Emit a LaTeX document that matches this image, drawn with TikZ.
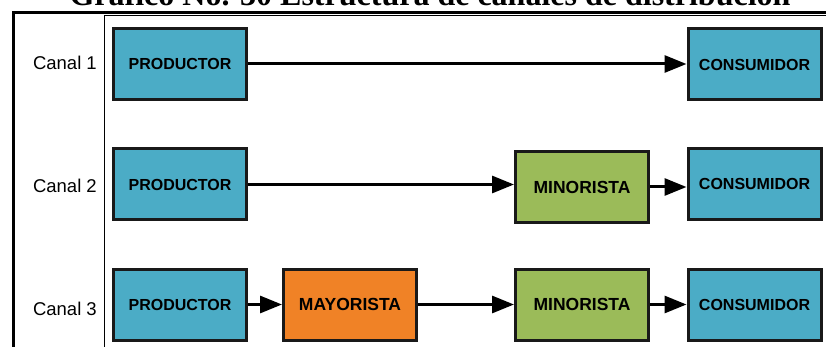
\documentclass[tikz,border=0pt]{standalone}
\usepackage{fontspec}
\setmainfont{Liberation Sans}
\newfontfamily\titlefont{Liberation Serif}
\usetikzlibrary{arrows.meta,positioning}
\definecolor{azul}{RGB}{75,172,198}
\definecolor{verde}{RGB}{155,187,89}
\definecolor{naranja}{RGB}{240,130,38}

\begin{document}
\begin{tikzpicture}[x=1pt,y=-1pt,
    caja/.style={draw=black!90, line width=3pt, minimum width=133pt, minimum height=71pt,
      inner sep=0pt, font=\bfseries\fontsize{16}{18}\selectfont},
    cajag/.style={caja, font=\bfseries\fontsize{17.5}{20}\selectfont},
    flecha/.style={line width=3pt, -{Triangle[length=22pt,width=17pt]}}]
    \useasboundingbox (0,0) rectangle (826,347);

    % Title, cut off at the top
    \node[anchor=base, inner sep=0pt, font=\titlefont\bfseries\fontsize{32}{36}\selectfont]
      (titulo) at (430,6) {Gráfico No. 30 Estructura de canales de distribución};

    % Frame
    \draw[line width=3pt] (13.5,360) -- (13.5,12.5) -- (840,12.5);
    \draw[line width=1pt] (104,360) -- (104,16) -- (840,16);

    % Channel labels
    \foreach \yy/\n in {70/1,193/2,315/3} {
      \node[anchor=base east, inner sep=0pt, font=\fontsize{18.5}{22}\selectfont]
        (canal\n) at (97,\yy) {Canal \n};
    }

    % Canal 1
    \node[caja, fill=azul] (prod1) at (180,64) {PRODUCTOR};
    \node[caja, fill=azul] (cons1) at (754.5,64.5) {CONSUMIDOR};
    \draw[flecha] (prod1.east) -- (prod1.east -| cons1.west);

    % Canal 2
    \node[caja, fill=azul] (prod2) at (180,184.5) {PRODUCTOR};
    \node[cajag, fill=verde] (mino2) at (582,187) {MINORISTA};
    \node[caja, fill=azul] (cons2) at (754.5,184) {CONSUMIDOR};
    \draw[flecha] (prod2.east) -- (prod2.east -| mino2.west);
    \draw[flecha] (mino2.east) -- (mino2.east -| cons2.west);

    % Canal 3
    \node[caja, fill=azul] (prod3) at (180,304.5) {PRODUCTOR};
    \node[cajag, fill=naranja] (mayo3) at (350,304.5) {MAYORISTA};
    \node[cajag, fill=verde] (mino3) at (582,304.5) {MINORISTA};
    \node[caja, fill=azul] (cons3) at (754.5,304.5) {CONSUMIDOR};
    \draw[flecha] (prod3.east) -- (prod3.east -| mayo3.west);
    \draw[flecha] (mayo3.east) -- (mayo3.east -| mino3.west);
    \draw[flecha] (mino3.east) -- (mino3.east -| cons3.west);
\end{tikzpicture}
\end{document}
